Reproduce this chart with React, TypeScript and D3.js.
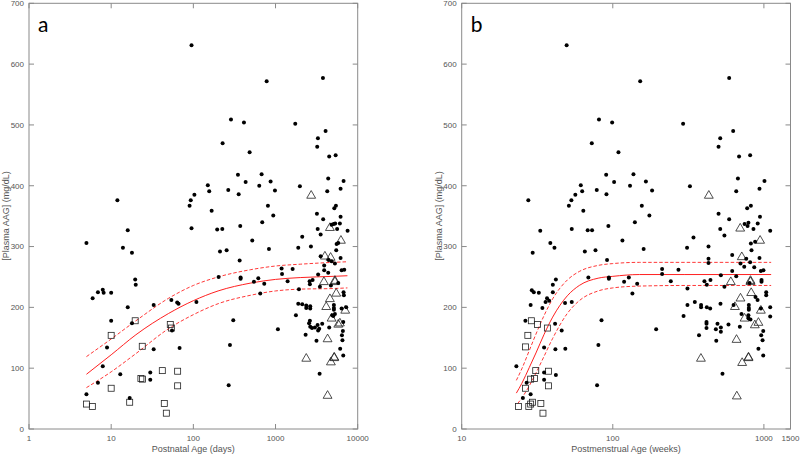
import React from "react";
import * as d3 from "d3";

// ---------- Panel a: Postnatal age (days) ----------
const dotsA: [number, number][] = [
  [95,631],[780,572],[3775,577],[287,509],[413,504],[1738,502],[4065,490],[3280,478],[3215,464],[227,470],
  [484,455],[4500,448],[5390,450],[349,418],[677,419],[150,401],[433,406],[871,407],[634,400],[1980,399],
  [6735,408],[4376,412],[266,393],[156,391],[984,392],[103,385],[356,386],[93,376],[11.9,376],[90,367],
  [4260,391],[6190,395],[167,359],[808,367],[939,351],[5430,367],[5190,363],[3190,354],[3800,345],[6190,349],
  [689,340],[372,334],[95,330],[195,328],[225,329],[5320,338],[4810,336],[5090,337],[6070,338],[3260,329],
  [5620,329],[7530,326],[3540,320],
  [5,306],[15.9,327],[13.9,298],[17.9,290],[19.6,246],[19.9,237],[6.9,225],[7.9,229],[8.1,224],[10,224],
  [5.95,215],[15.9,200],[32.9,204],[54,212],[63.6,208],[66,206],[109,209],[10,178],[17.9,174],[55,162],
  [8.9,134],[32.9,131],[68,133],[7.9,103],[12.9,90],[29.9,93],[29.9,81],[6.9,76],[5,57],[16.8,51],
  [521,310],[832,296],[211,292],[254,294],[366,277],[203,250],[376,249],[376,247],[617,248],[1186,264],
  [1200,255],[546,242],[729,239],[1403,243],[652,223],[306,179],[1069,164],[279,138],[269,72],
  [2113,316],[5540,304],[5800,306],[1890,298],[2696,300],[5480,294],[3540,284],[4430,278],[4810,276],[6190,281],
  [5280,272],[3910,269],[3910,261],[6370,261],[6860,262],[1615,263],[3300,254],[4376,257],[2600,243],[2826,245],
  [2620,238],[5800,240],[4720,236],[3470,234],[1928,230],[6730,225],[6790,220],[1890,206],[2113,205],[2366,203],
  [2645,202],[2366,199],[2645,198],[5130,204],[5130,199],[5130,196],[6370,198],[7250,200],[1771,187],[5050,186],
  [4900,187],[5280,189],[6670,176],[2620,178],[2560,174],[2645,168],[2780,166],[3015,167],[3250,171],[3400,165],
  [3700,173],[3300,162],[3150,145],[2323,155],[4500,167],[6600,161],[6430,154],[6520,146],[6120,132],[6670,121],
  [3440,91]
];
const squaresA: [number, number][] = [
  [19.6,178],[10,154],[52.4,172],[54,166],[23.9,136],[23,83],[24,82],[41.9,96],[64.4,95],[64.4,71],
  [10,67],[16.8,44],[5,41],[5.9,37],[44.3,42],[46.9,26]
];
const trianglesA: [number, number][] = [
  [2717,385],[4590,332],[6250,311],[3990,285],[4680,283],[3880,243],[5280,245],[5280,243],[5480,224],[4590,215],
  [4140,202],[7050,196],[4810,183],[6070,175],[5800,173],[4300,149],[2366,117],[5180,119],[5180,118],[4720,111],
  [4300,56]
];
const fitMidA: [number, number][] = [[5,90],[10,122],[20,155],[50,190],[100,211],[200,227],[500,240],[1000,246],[2000,249],[5000,251],[7500,252]];
const fitUpA: [number, number][] = [[5,119],[10,148],[20,178],[50,215],[100,236],[200,250],[500,262],[1000,268],[2000,271],[5000,274],[7500,275]];
const fitLoA: [number, number][] = [[5,68],[10,94],[20,124],[50,165],[100,188],[200,206],[500,220],[1000,227],[2000,230],[5000,231],[7500,232]];

// ---------- Panel b: Postmenstrual age (weeks) ----------
const dotsB: [number, number][] = [
  [49.5,631],[151.8,572],[589,577],[81,509],[99,504],[292,502],[626,490],[514,478],[501,464],[72.6,470],
  [109,455],[685,448],[811,450],[90.4,418],[137,419],[61.4,401],[102,406],[165.6,407],[130,400],[324,399],
  [1009,408],[673,412],[78.3,393],[62.7,391],[182,392],[56.5,385],[90.8,386],[53.2,376],[27.6,376],[51.2,367],
  [656,391],[935,395],[63.8,359],[155.6,367],[174.6,351],[820,367],[775,363],[501,354],[589,345],[942,349],
  [140,340],[790,339],[780,334],[745,337],[910,338],[514,329],[853,329],
  [53.5,329],[68.2,327],[72.9,327],[93.5,334],[115.8,310],[160,296],[91.6,278],[33.1,326],[38.6,306],[41.1,298],
  [29.5,290],[65.3,292],[76.8,294],[42,246],[40.1,237],[29.1,228],[30,225],[32.4,224],[40.1,225],[68.9,249],
  [94.2,249],[94.2,247],[127.7,249],[118.8,242],[145,239],[134.8,223],[36.7,215],[37.9,211],[28.6,204],[35.9,209],
  [34.2,199],[48.3,207],[53.5,209],[26.4,178],[41.5,173],[45.9,162],[84.2,179],[35.1,134],[41.7,131],[48.5,132],
  [80.3,138],[23,103],[35.1,93],[35.1,81],[42,89],[26.9,76],[28.6,57],[25.4,51],[78.7,72],[193.6,164],
  [212,263],[212,255],[242,243],[272,262],[342,315],[310,298],[294,186],[312,231],[312,204],[349,209],
  [372,154],[384,200],[384,204],[430,300],[430,280],[430,273],[443,245],[404,243],[419,237],[419,200],
  [441,198],[417,176],[417,173],[417,166],[481,164],[484,145],[493,173],[519,167],[519,160],[516,206],
  [548,318],[532,91],[548,234],[583,172],[519,253],
  [875,308],[820,305],[617,286],[828,294],[764,280],[935,281],[700,272],[741,267],[811,274],[863,266],
  [955,260],[993,261],[617,260],[656,251],[803,240],[964,242],[964,245],[1036,225],[1036,220],[880,217],
  [908,212],[630,204],[795,204],[795,199],[795,196],[955,198],[1101,200],[711,189],[790,187],[790,182],
  [815,180],[1101,185],[693,168],[990,161],[960,154],[980,146],[920,132],[990,121],[1101,326]
];
const squaresB: [number, number][] = [
  [28.9,178],[31.7,172],[36.9,166],[27.4,154],[26.4,135],[30.9,96],[37.5,95],[30.3,83],[28.6,82],[26.4,67],
  [37.5,71],[23.8,37],[27.8,37],[28.6,41],[29.4,44],[33.4,42],[34.5,26]
];
const trianglesB: [number, number][] = [
  [432,385],[697,331],[944,311],[714,284],[604,243],[815,245],[815,243],[824,225],[700,216],[643,202],
  [955,196],[745,183],[920,176],[871,172],[659,148],[383,117],[791,119],[791,118],[718,110],[662,55]
];
const fitMidB: [number, number][] = [[23,59],[25,75],[28,101],[31,125],[35,155],[40,184],[50,219],[60,236],[80,248],[100,251],[150,254],[300,254],[1117,254]];
const fitUpB: [number, number][] = [[23,80],[25,99],[28,129],[31,156],[35,186],[40,214],[50,245],[60,259],[80,269],[100,272],[150,274],[300,274],[1117,274]];
const fitLoB: [number, number][] = [[23.5,42],[25,51],[28,71],[31,92],[35,119],[40,149],[50,190],[60,211],[80,227],[100,232],[150,235],[300,236],[1117,236]];

const yTicks = [0, 100, 200, 300, 400, 500, 600, 700];
const xTicksA = [1, 10, 100, 1000, 10000];
const xTicksB = [10, 100, 1000, 1500];

const AXIS = "#8a8a8a";
const TEXT = "#555";
const FONT = "'Liberation Sans', Arial, sans-serif";

type PanelProps = {
  x0: number; x1: number; domain: [number, number];
  xTicks: number[]; xLabel: string; letter: string;
  dots: [number, number][]; squares: [number, number][]; triangles: [number, number][];
  mid: [number, number][]; up: [number, number][]; lo: [number, number][];
};

function Panel(p: PanelProps) {
  const top = 3.3, bottom = 429;
  const x = d3.scaleLog().domain(p.domain).range([p.x0, p.x1]);
  const y = d3.scaleLinear().domain([0, 700]).range([bottom, top]);
  const line = d3.line<[number, number]>().x(d => x(d[0])).y(d => y(d[1])).curve(d3.curveMonotoneX);
  const tri = d3.symbol().type(d3.symbolTriangle).size(34)();
  const tl = 5;
  return (
    <g>
      <rect x={p.x0} y={top} width={p.x1 - p.x0} height={bottom - top} fill="white" stroke={AXIS} strokeWidth={1} />
      {yTicks.map(t => (
        <g key={"y" + t}>
          <line x1={p.x0} x2={p.x0 + tl} y1={y(t)} y2={y(t)} stroke={AXIS} />
          <line x1={p.x1} x2={p.x1 - tl} y1={y(t)} y2={y(t)} stroke={AXIS} />
          <text x={p.x0 - 5} y={y(t)} dy="0.35em" textAnchor="end" fontSize={8} fill={TEXT} fontFamily={FONT}>{t}</text>
        </g>
      ))}
      {p.xTicks.map(t => (
        <g key={"x" + t}>
          <line x1={x(t)} x2={x(t)} y1={bottom} y2={bottom - tl} stroke={AXIS} />
          <line x1={x(t)} x2={x(t)} y1={top} y2={top + tl} stroke={AXIS} />
          <text x={x(t)} y={bottom + 9.5} dy="0.35em" textAnchor="middle" fontSize={8} fill={TEXT} fontFamily={FONT}>{t}</text>
        </g>
      ))}
      <text x={(p.x0 + p.x1) / 2} y={449} dy="0.35em" textAnchor="middle" fontSize={9} fill={TEXT} fontFamily={FONT}>{p.xLabel}</text>
      <text transform={`translate(${p.x0 - 23},216) rotate(-90)`} dy="0.35em" textAnchor="middle" fontSize={9} fill={TEXT} fontFamily={FONT}>[Plasma AAG] (mg/dL)</text>
      <text x={p.x0 + 9} y={32} fontSize={21} fill="#000" fontFamily="Lato, 'Open Sans', sans-serif">{p.letter}</text>
      <path d={line(p.up) || ""} fill="none" stroke="#ff2020" strokeWidth={0.9} strokeDasharray="3.5,2" />
      <path d={line(p.lo) || ""} fill="none" stroke="#ff2020" strokeWidth={0.9} strokeDasharray="3.5,2" />
      <path d={line(p.mid) || ""} fill="none" stroke="#ff2020" strokeWidth={1} />
      {p.squares.map((d, i) => (
        <rect key={"s" + i} x={x(d[0]) - 3} y={y(d[1]) - 3} width={6} height={6} fill="none" stroke="#222" strokeWidth={0.8} />
      ))}
      {p.triangles.map((d, i) => (
        <path key={"t" + i} d={tri || ""} transform={`translate(${x(d[0])},${y(d[1]) + 0.8})`} fill="none" stroke="#222" strokeWidth={0.8} />
      ))}
      {p.dots.map((d, i) => (
        <circle key={"d" + i} cx={x(d[0])} cy={y(d[1])} r={2} fill="#000" />
      ))}
    </g>
  );
}

export default function App() {
  return (
    <svg width={800} height={455} style={{ position: "absolute", left: 0, top: 0, background: "white" }}>
      <rect width={800} height={455} fill="white" />
      <Panel x0={29} x1={357.7} domain={[1, 10000]} xTicks={xTicksA} xLabel="Postnatal Age (days)" letter="a"
        dots={dotsA} squares={squaresA} triangles={trianglesA} mid={fitMidA} up={fitUpA} lo={fitLoA} />
      <Panel x0={461.7} x1={790.5} domain={[10, 1500]} xTicks={xTicksB} xLabel="Postmenstrual Age (weeks)" letter="b"
        dots={dotsB} squares={squaresB} triangles={trianglesB} mid={fitMidB} up={fitUpB} lo={fitLoB} />
    </svg>
  );
}
